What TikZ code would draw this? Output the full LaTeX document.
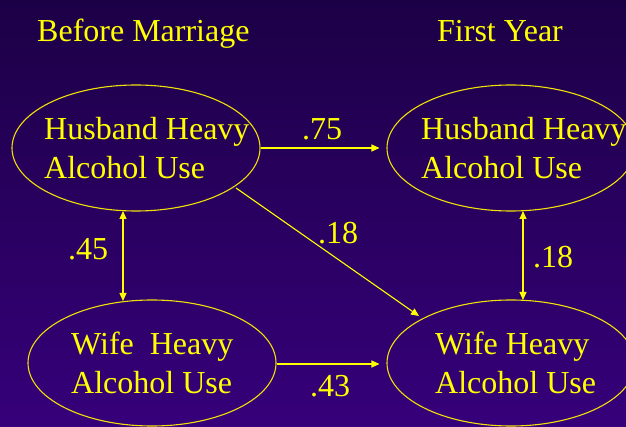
\documentclass[tikz,border=0pt]{standalone}
\usepackage{fontspec}
\setmainfont{Liberation Serif}
\usetikzlibrary{arrows.meta,calc,shapes.geometric}
\definecolor{bgtop}{RGB}{28,0,70}
\definecolor{bgbot}{RGB}{54,0,122}
\definecolor{ylw}{RGB}{255,255,0}
\definecolor{ellcol}{RGB}{240,225,10}
\begin{document}
\begin{tikzpicture}[x=1pt,y=-1pt,
  varell/.style={draw=ellcol,line width=1.1pt,ellipse,minimum width=248pt,minimum height=126pt,inner sep=0pt},
  lbl/.style={text=ylw,font=\fontsize{32}{39}\selectfont,anchor=base west,inner sep=0pt,align=left},
  conn/.style={draw=ylw,line width=1.1pt,-{Triangle[length=8pt,width=7pt]}},
  biconn/.style={draw=ylw,line width=1.1pt,{Triangle[length=8pt,width=7pt]}-{Triangle[length=8pt,width=7pt]}}]
\shade[top color=bgtop,bottom color=bgbot] (0,0) rectangle (626,427);
\useasboundingbox (0,0) rectangle (626,427);
% titles
\node[lbl] (t1) at (37,42) {Before Marriage};
\node[lbl] (t2) at (437,42) {First Year};
% ellipses
\node[varell] (tl) at (136,148) {};
\node[varell] (tr) at (511,148) {};
\node[varell] (bl) at (152,363) {};
\node[varell] (br) at (511,363) {};
% ellipse texts (anchor = baseline of last line)
\node[lbl] (tltx) at (44,179) {Husband Heavy\\Alcohol Use};
\node[lbl] (trtx) at (421,179) {Husband Heavy\\Alcohol Use};
\node[lbl] (bltx) at (71,393) {Wife\ \ Heavy\\Alcohol Use};
\node[lbl] (brtx) at (435,393) {Wife Heavy\\Alcohol Use};
% connectors
\coordinate (a75) at ($(tr.west)+(-7,0)$);
\draw[conn] (tl.east) -- (a75);
\coordinate (a43s) at ($(bl.east)+(0,1)$);
\coordinate (a43e) at ($(br.west)+(-7,1)$);
\draw[conn] (a43s) -- (a43e);
\coordinate (d1) at ($(tl.center)+(100,40)$);
\coordinate (d2) at ($(br.center)+(-92,-47)$);
\draw[conn] (d1) -- (d2);
\coordinate (v1a) at ($(tl.center)+(-13,63)$);
\coordinate (v1b) at ($(bl.center)+(-29,-62)$);
\draw[biconn] (v1a) -- (v1b);
\coordinate (v2a) at ($(tr.center)+(12,63)$);
\coordinate (v2b) at ($(br.center)+(12,-63)$);
\draw[biconn] (v2a) -- (v2b);
% coefficient labels
\node[lbl] (c75) at (302,140) {.75};
\node[lbl] (c43) at (310,396) {.43};
\node[lbl] (c45) at (68,260) {.45};
\node[lbl] (c18r) at (533,268) {.18};
\node[lbl] (c18d) at (318,244) {.18};
\end{tikzpicture}
\end{document}
